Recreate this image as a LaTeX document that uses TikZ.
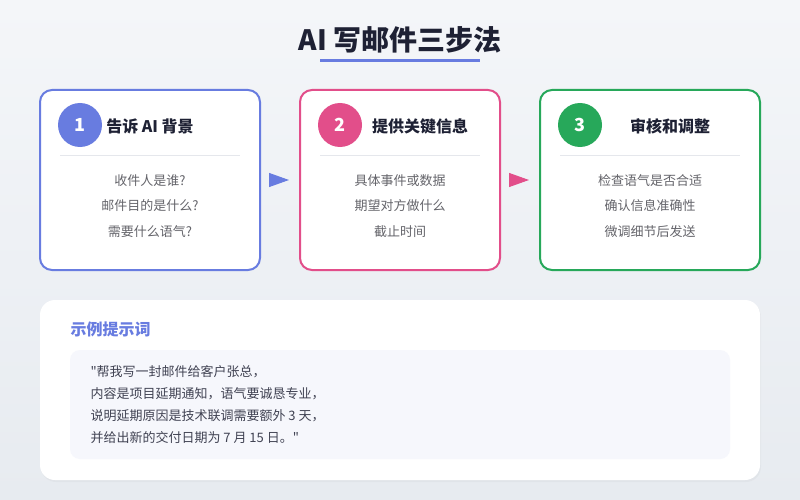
\documentclass[tikz,border=0pt]{standalone}
\usepackage{fontspec}
\setmainfont{Noto Sans CJK SC}
\newfontfamily\plainquote{Noto Sans CJK SC}
\usetikzlibrary{positioning,arrows.meta,shadows}
\definecolor{bgtop}{RGB}{244,246,249}
\definecolor{bgbot}{RGB}{231,235,240}
\definecolor{stepblue}{RGB}{104,124,224}
\definecolor{steppink}{RGB}{226,78,138}
\definecolor{stepgreen}{RGB}{39,168,90}
\definecolor{titleink}{RGB}{30,33,52}
\definecolor{bodygray}{RGB}{100,100,106}
\definecolor{rulegray}{RGB}{229,231,236}
\definecolor{promptbg}{RGB}{246,247,252}
\newcommand{\dq}{{\plainquote"}}
\tikzset{
  card/.style  = {draw=#1, line width=2pt, fill=white, rounded corners=12pt, minimum height=180pt},
  badge/.style = {circle, fill=#1, minimum size=44pt, inner sep=0pt, text=white, font=\fontsize{18}{20}\selectfont\bfseries},
  head/.style  = {font=\fontsize{16}{18}\selectfont\bfseries, text=titleink},
  body/.style  = {font=\fontsize{13}{25.5}\selectfont, text=bodygray, align=center},
  flow/.style  = {-{Triangle[length=20pt,width=14pt]}, draw=#1, fill=#1, line width=1pt, shorten >=10pt, shorten <=10pt},
  panel/.style = {fill=white, rounded corners=15pt, drop shadow={opacity=0.06, shadow xshift=1pt, shadow yshift=-2pt}},
}
\begin{document}
\begin{tikzpicture}[x=1pt, y=-1pt]
  \useasboundingbox (0,0) rectangle (800,500);
  \shade[top color=bgtop, bottom color=bgbot] (0,0) rectangle (800,500);

  % title
  \node[font=\fontsize{28}{30}\selectfont\bfseries, text=titleink] (title) at (400,40) {AI 写邮件三步法};
  \draw[stepblue, line width=3pt] (320,61) -- (480,61);

  % three steps
  \node[card=stepblue, minimum width=220pt] (card1) at (150,180) {};
  \node[card=steppink, minimum width=200pt] (card2) at (400,180) {};
  \node[card=stepgreen, minimum width=220pt] (card3) at (650,180) {};

  \node[badge=stepblue] (num1) at (80,125) {1};
  \node[badge=steppink] (num2) at (340,125) {2};
  \node[badge=stepgreen] (num3) at (580,125) {3};

  \node[head] (head1) at (150,126) {告诉 AI 背景};
  \node[head] (head2) at (420,126) {提供关键信息};
  \node[head] (head3) at (670,126) {审核和调整};

  \draw[rulegray] (60,155) -- (240,155);
  \draw[rulegray] (320,155) -- (480,155);
  \draw[rulegray] (560,155) -- (740,155);

  \node[body] (body1) at (150,206) {收件人是谁?\\邮件目的是什么?\\需要什么语气?};
  \node[body] (body2) at (400,206) {具体事件或数据\\期望对方做什么\\截止时间};
  \node[body] (body3) at (650,206) {检查语气是否合适\\确认信息准确性\\微调细节后发送};

  \draw[flow=stepblue] (card1) -- (card2);
  \draw[flow=steppink] (card2) -- (card3);

  % example prompt
  \node[panel, minimum width=720pt, minimum height=180pt] (panel) at (400,390) {};
  \node[anchor=west, text=stepblue, font=\fontsize{16}{18}\selectfont\bfseries] (examplehead) at (67,329) {示例提示词};
  \node[fill=promptbg, rounded corners=10pt, minimum width=660pt, minimum height=109pt] (promptbox) at (400,404.5) {};
  \node[anchor=north west, align=left, text=titleink!85, font=\fontsize{13}{22}\selectfont] (prompt) at (87,362)
    {\dq 帮我写一封邮件给客户张总，\\内容是项目延期通知，语气要诚恳专业，\\说明延期原因是技术联调需要额外 3 天，\\并给出新的交付日期为 7 月 15 日。\dq};
\end{tikzpicture}
\end{document}
